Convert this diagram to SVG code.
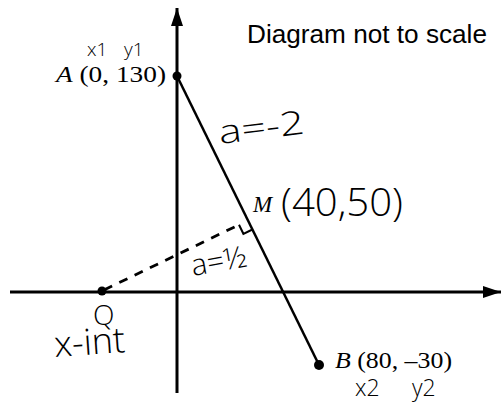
<svg xmlns="http://www.w3.org/2000/svg" width="502" height="410" viewBox="0 0 502 410">
<style>
.axis{stroke:#000;stroke-width:3;fill:none}
.seg{stroke:#000;stroke-width:2.5;fill:none}
.dash{stroke:#000;stroke-width:2.8;stroke-dasharray:9 8;fill:none}
.sq{stroke:#000;stroke-width:2;fill:none}
.serif{font-family:"Liberation Serif",serif;fill:#000}
.hand{font-family:"Open Sans","DejaVu Sans",sans-serif;font-weight:300;fill:#000}
.sans{font-family:"Liberation Sans",Arial,sans-serif;fill:#000}
.dot{fill:#000}
</style>
<defs>
<marker id="arr" viewBox="0 0 18 12" refX="18" refY="6" markerWidth="18" markerHeight="12" markerUnits="userSpaceOnUse" orient="auto"><path d="M0,0 L18,6 L0,12 Z" fill="#000"/></marker>
</defs>
<rect width="502" height="410" fill="#fff"/>
<g id="axes">
<line class="axis" x1="177" y1="393" x2="177" y2="8" marker-end="url(#arr)"/>
<line class="axis" x1="10" y1="292" x2="501" y2="292" marker-end="url(#arr)"/>
</g>
<g id="connectors">
<line class="seg" x1="177" y1="76" x2="319" y2="365"/>
<line class="dash" x1="104" y1="290" x2="239" y2="224.8"/>
<polyline class="sq" points="239,224.8 243.4,233.8 252.4,229.5"/>
</g>
<g id="note">
<text class="sans" x="247" y="43" font-size="25" textLength="240" lengthAdjust="spacingAndGlyphs">Diagram not to scale</text>
</g>
<g id="A">
<circle class="dot" cx="177" cy="76" r="4.5"/>
<text class="hand" font-size="19"><tspan x="87" y="56">x1</tspan><tspan x="124" y="56">y1</tspan></text>
<text class="serif" x="56" y="82" font-size="24" textLength="110" lengthAdjust="spacingAndGlyphs"><tspan font-style="italic">A</tspan> (0, 130)</text>
</g>
<g id="AB-label">
<text class="hand" x="220" y="144" font-size="33" transform="rotate(-7 220 144)" textLength="86" lengthAdjust="spacingAndGlyphs">a=-2</text>
</g>
<g id="M">
<text class="serif" x="253" y="212" font-size="23" font-style="italic">M</text>
<text class="hand" x="281" y="216" font-size="39" textLength="122" lengthAdjust="spacingAndGlyphs">(40,50)</text>
</g>
<g id="QM-label">
<text class="hand" x="193" y="276" font-size="30" transform="rotate(-10 193 276)">a=½</text>
</g>
<g id="Q">
<circle class="dot" cx="102" cy="291" r="4.5"/>
<text class="hand" x="93" y="325" font-size="28">Q</text>
<text class="hand" x="55" y="357" font-size="36" transform="rotate(-4 55 357)">x-int</text>
</g>
<g id="B">
<circle class="dot" cx="319" cy="365" r="5"/>
<text class="serif" x="335" y="368" font-size="23" textLength="117" lengthAdjust="spacingAndGlyphs"><tspan font-style="italic">B</tspan> (80, –30)</text>
<text class="hand" font-size="23"><tspan x="355" y="396">x2</tspan><tspan x="412" y="396">y2</tspan></text>
</g>
</svg>
